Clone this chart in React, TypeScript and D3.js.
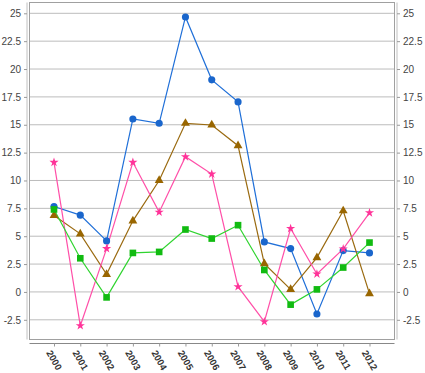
import React, { useEffect, useRef } from 'react';
import * as d3 from 'd3';

const years = ['2000', '2001', '2002', '2003', '2004', '2005', '2006', '2007', '2008', '2009', '2010', '2011', '2012'];
const blueValues = [7.67, 6.89, 4.58, 15.52, 15.13, 24.67, 19.03, 17.05, 4.49, 3.89, -1.98, 3.71, 3.5];
const brownValues = [6.86, 5.21, 1.58, 6.38, 10.0, 15.13, 14.98, 13.12, 2.54, 0.23, 3.08, 7.28, -0.15];
const pinkValues = [11.63, -3.03, 3.89, 11.63, 7.16, 12.13, 10.58, 0.47, -2.67, 5.69, 1.61, 3.86, 7.1];
const greenValues = [7.4, 3.02, -0.49, 3.5, 3.59, 5.6, 4.79, 5.99, 1.97, -1.14, 0.23, 2.19, 4.43];
const yTicks = [-2.5, 0, 2.5, 5, 7.5, 10, 12.5, 15, 17.5, 20, 22.5, 25];

const W = 425;
const H = 373;

const App = () => {
  const ref = useRef<SVGSVGElement>(null);

  useEffect(() => {
    const svg = d3.select(ref.current);
    svg.selectAll('*').remove();

    // plot frame edges
    const left = 29.5;
    const right = 394.5;
    const top = 2.5;
    const bottom = 339.5;

    const x = d3.scalePoint().domain(years).range([54, 369.5]);
    const y = d3.scaleLinear().domain([-2.5, 25]).range([319.8, 13.3]);

    svg.append('rect').attr('width', W).attr('height', H).attr('fill', '#fff');

    // gridlines
    svg
      .append('g')
      .selectAll('line')
      .data(yTicks)
      .join('line')
      .attr('x1', left)
      .attr('x2', right)
      .attr('y1', (d) => y(d))
      .attr('y2', (d) => y(d))
      .attr('stroke', '#bcbcbc')
      .attr('stroke-width', 1);

    // frame
    svg
      .append('rect')
      .attr('x', left)
      .attr('y', top)
      .attr('width', right - left)
      .attr('height', bottom - top)
      .attr('fill', 'none')
      .attr('stroke', '#a0a0a0');

    const font = '"Liberation Sans", Arial, sans-serif';

    // left axis
    const yLeft = svg.append('g').attr('transform', 'translate(27,0)').call(d3.axisLeft(y).tickValues(yTicks).tickSize(3).tickPadding(3).tickFormat((d) => String(d)));
    yLeft.select('.domain').attr('d', `M0,${top}V${bottom}`).attr('stroke', '#c0c0c0');
    yLeft.selectAll('.tick line').attr('stroke', '#999');
    yLeft.selectAll('text').attr('fill', '#444').style('font-family', font).style('font-size', '10px');

    // right axis
    const yRight = svg.append('g').attr('transform', 'translate(397,0)').call(d3.axisRight(y).tickValues(yTicks).tickSize(3).tickPadding(3).tickFormat((d) => String(d)));
    yRight.select('.domain').attr('d', `M0,${top}V${bottom}`).attr('stroke', '#c0c0c0');
    yRight.selectAll('.tick line').attr('stroke', '#999');
    yRight.selectAll('text').attr('fill', '#444').style('font-family', font).style('font-size', '10px');

    // bottom axis
    const xAxis = svg.append('g').attr('transform', 'translate(0,343.5)').call(d3.axisBottom(x).tickSize(3).tickPadding(0));
    xAxis.select('.domain').attr('d', `M${left},0H${right}`).attr('stroke', '#888');
    xAxis.selectAll('.tick line').attr('stroke', '#999');
    xAxis
      .selectAll('text')
      .attr('fill', '#333')
      .style('font-family', font)
      .style('font-size', '9.5px')
      .style('font-weight', 'bold')
      .attr('text-anchor', 'start')
      .attr('dy', '0.35em')
      .attr('transform', 'translate(-3,6) rotate(60)');

    const series = [
      { values: blueValues, color: '#1f6fd8', fill: '#1a66cc', symbol: d3.symbolCircle, size: 40 },
      { values: brownValues, color: '#9a6a10', fill: '#996600', symbol: d3.symbolTriangle, size: 34 },
      { values: pinkValues, color: '#ff4fa8', fill: '#ff3399', symbol: d3.symbolStar, size: 26 },
      { values: greenValues, color: '#2fd42f', fill: '#11bb11', symbol: d3.symbolSquare, size: 44 },
    ];

    const line = d3
      .line<number>()
      .x((_, i) => x(years[i]) as number)
      .y((d) => y(d));

    series.forEach((s) => {
      svg
        .append('path')
        .datum(s.values)
        .attr('fill', 'none')
        .attr('stroke', s.color)
        .attr('stroke-width', 1.2)
        .attr('d', line);
    });

    series.forEach((s) => {
      svg
        .append('g')
        .selectAll('path')
        .data(s.values)
        .join('path')
        .attr('transform', (d, i) => `translate(${x(years[i])},${y(d)})`)
        .attr('d', d3.symbol().type(s.symbol).size(s.size))
        .attr('fill', s.fill);
    });
  }, []);

  return <svg ref={ref} width={W} height={H} style={{ position: 'absolute', left: 0, top: 0, display: 'block' }} />;
};

export default App;
